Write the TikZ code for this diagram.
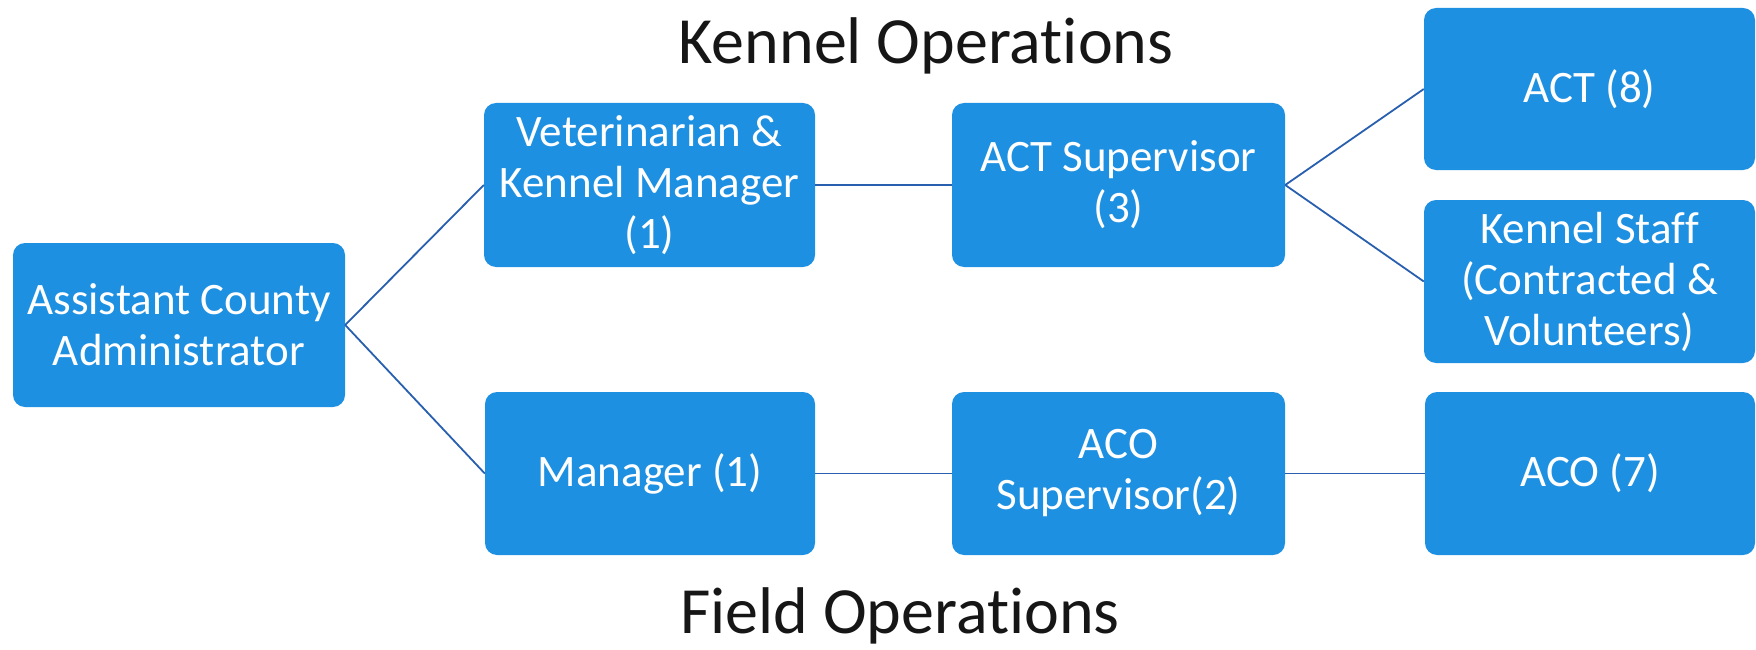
\documentclass[tikz,border=0pt]{standalone}
\usepackage{fontspec}
\setmainfont{Carlito}[RawFeature={-liga;-clig;-dlig}]
\definecolor{boxblue}{RGB}{30,144,226}
\definecolor{lineblue}{RGB}{40,95,175}
\definecolor{titlegray}{RGB}{22,22,22}
\begin{document}
\begin{tikzpicture}[x=1pt,y=-1pt,
  orgbox/.style={rectangle, rounded corners=12pt, fill=boxblue, draw=none,
    text=white, align=center, inner sep=0pt,
    minimum width=331pt, minimum height=163pt,
    font=\fontsize{45}{51}\selectfont},
  link/.style={draw=lineblue, line width=1.8pt},
  heading/.style={anchor=base, text=titlegray, inner sep=0pt,
    font=\fontsize{66}{70}\selectfont}]
\useasboundingbox (0,0) rectangle (1756,650);
\node[orgbox, minimum width=332pt, minimum height=164pt] (aca) at (179,325) {Assistant County\\Administrator};
\node[orgbox, minimum height=164pt] (vet) at (649.5,185) {Veterinarian \&\\Kennel Manager\\(1)};
\node[orgbox, minimum width=333pt, minimum height=164pt] (actsup) at (1118.5,185) {ACT Supervisor\\(3)};
\node[orgbox, minimum height=162pt] (act) at (1589.5,89) {ACT (8)};
\node[orgbox] (kennel) at (1589.5,281.5) {Kennel Staff\\(Contracted \&\\Volunteers)};
\node[orgbox, minimum width=330pt] (mgr) at (650,473.5) {Manager (1)};
\node[orgbox, minimum width=333pt] (acosup) at (1118.5,473.5) {ACO\\Supervisor(2)};
\node[orgbox, minimum width=330pt] (aco) at (1590,473.5) {ACO (7)};
\node[heading] (kt) at (926,64) {Kennel Operations};
\node[heading] (ft) at (900,633) {Field Operations};
\draw[link] (aca.east) -- (vet.west);
\draw[link] (aca.east) -- (mgr.west);
\draw[link] (vet.east) -- (actsup.west);
\draw[link] (actsup.east) -- (act.west);
\draw[link] (actsup.east) -- (kennel.west);
\draw[link] (mgr.east) -- (acosup.west);
\draw[link] (acosup.east) -- (aco.west);
\end{tikzpicture}
\end{document}
